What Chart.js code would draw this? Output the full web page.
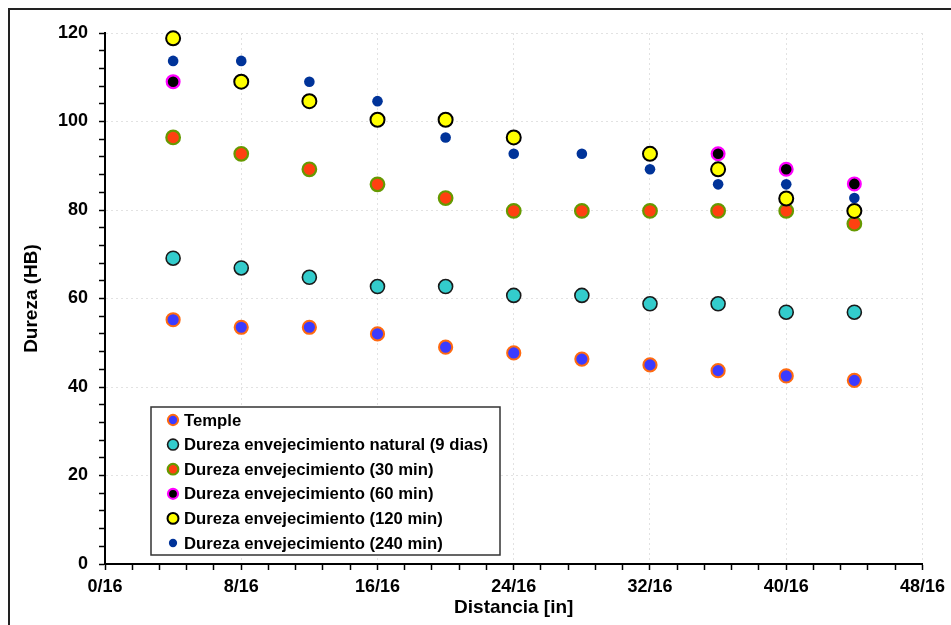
<!DOCTYPE html>
<html>
<head>
<meta charset="utf-8">
<script src="https://cdn.jsdelivr.net/npm/chart.js@4.4.0/dist/chart.umd.min.js"></script>
<style>
    html, body { margin: 0; padding: 0; background: #fff; }
    #wrap { position: relative; width: 951px; height: 625px; }
</style>
</head>
<body>
<div id="wrap"><canvas id="durezaChart" width="951" height="625"></canvas></div>
<script>
// distancia en dieciseisavos de pulgada
const distancias = [4, 8, 12, 16, 20, 24, 28, 32, 36, 40, 44];

const temple      = [55.2, 53.5, 53.5, 52.0, 49.0, 47.7, 46.3, 45.0, 43.7, 42.5, 41.5];
const natural9d   = [69.1, 66.9, 64.8, 62.7, 62.7, 60.7, 60.7, 58.8, 58.8, 56.9, 56.9];
const env30       = [96.4, 92.7, 89.2, 85.8, 82.7, 79.8, 79.8, 79.8, 79.8, 79.8, 76.9];
const env60       = [109.0, null, null, null, null, null, null, null, 92.7, 89.2, 85.9];
const env120      = [118.8, 109.0, 104.6, 100.4, 100.4, 96.4, null, 92.7, 89.2, 82.6, 79.8];
const env240      = [113.7, 113.7, 109.0, 104.6, 96.4, 92.7, 92.7, 89.2, 85.8, 85.8, 82.7];

const etiquetas = [
    'Temple',
    'Dureza envejecimiento natural (9 dias)',
    'Dureza envejecimiento (30 min)',
    'Dureza envejecimiento (60 min)',
    'Dureza envejecimiento (120 min)',
    'Dureza envejecimiento (240 min)'
];

const FUENTE = '"Liberation Sans", Arial, sans-serif';

function puntos(valores) {
    const out = [];
    valores.forEach((v, i) => {
        if (v !== null) out.push({ x: distancias[i], y: v });
    });
    return out;
}

function esMayor(v, paso) {
    return Math.abs(v / paso - Math.round(v / paso)) < 1e-6;
}

const estilos = [
    { fondo: '#3b3bff', borde: '#ff6a10', radio: 6.6, ancho: 2 },
    { fondo: '#33cccc', borde: '#1a1a1a', radio: 7,   ancho: 1.6 },
    { fondo: '#ff4010', borde: '#669900', radio: 6.8, ancho: 2.2 },
    { fondo: '#000000', borde: '#ff00ff', radio: 6.4, ancho: 2.2 },
    { fondo: '#ffff00', borde: '#000000', radio: 7,   ancho: 2 },
    { fondo: '#003399', borde: '#003399', radio: 5.3, ancho: 0 }
];

const series = [temple, natural9d, env30, env60, env120, env240];

const datasets = series.map((valores, i) => ({
    label: etiquetas[i],
    data: puntos(valores),
    pointRadius: estilos[i].radio,
    pointHoverRadius: estilos[i].radio,
    pointBorderWidth: estilos[i].ancho,
    pointBackgroundColor: estilos[i].fondo,
    pointBorderColor: estilos[i].borde,
    showLine: false,
    clip: false,
    order: series.length - i
}));

const leyendaPlugin = {
    id: 'leyenda',
    afterDraw(chart) {
        const ctx = chart.ctx;
        ctx.save();
        ctx.fillStyle = '#fff';
        ctx.fillRect(151, 407, 349, 148);
        ctx.strokeStyle = '#333';
        ctx.lineWidth = 1.5;
        ctx.strokeRect(151, 407, 349, 148);
        chart.data.datasets.forEach((ds, i) => {
            const y = 420 + i * 24.6;
            ctx.beginPath();
            ctx.arc(173, y, ds.pointRadius * 0.78, 0, Math.PI * 2);
            ctx.fillStyle = ds.pointBackgroundColor;
            ctx.fill();
            if (ds.pointBorderWidth) {
                ctx.lineWidth = ds.pointBorderWidth;
                ctx.strokeStyle = ds.pointBorderColor;
                ctx.stroke();
            }
            ctx.fillStyle = '#000';
            ctx.font = 'bold 16.7px ' + FUENTE;
            ctx.textBaseline = 'middle';
            ctx.textAlign = 'left';
            ctx.fillText(ds.label, 184, y + 1);
        });
        // marco exterior
        ctx.strokeStyle = '#222';
        ctx.lineWidth = 2;
        ctx.beginPath();
        ctx.moveTo(9, 625);
        ctx.lineTo(9, 9);
        ctx.lineTo(951, 9);
        ctx.stroke();
        ctx.restore();
    }
};

const ctx = document.getElementById('durezaChart').getContext('2d');
const durezaChart = new Chart(ctx, {
    type: 'scatter',
    data: { datasets: datasets },
    options: {
        responsive: false,
        animation: false,
        devicePixelRatio: 1,
        layout: { padding: { top: 33, right: 27, bottom: 0, left: 0 } },
        plugins: {
            legend: { display: false },
            tooltip: { enabled: false }
        },
        scales: {
            x: {
                type: 'linear',
                min: 0,
                max: 48,
                afterBuildTicks: s => {
                    s.ticks = [];
                    for (let i = 0; i <= 30; i++) s.ticks.push({ value: i * 1.6 });
                },
                afterFit: s => { s.height = 61; },
                ticks: {
                    autoSkip: false,
                    maxRotation: 0,
                    padding: 6,
                    color: '#000',
                    font: { family: FUENTE, size: 18, weight: 'bold' },
                    callback: v => esMayor(v, 8) ? Math.round(v) + '/16' : ''
                },
                grid: {
                    color: c => esMayor(c.tick.value, 8) ? '#e2e2e2' : 'rgba(0,0,0,0)',
                    tickColor: '#000',
                    tickLength: 6,
                    tickWidth: 1.5
                },
                border: { color: '#000', width: 2, dash: [2, 3] },
                title: {
                    display: true,
                    text: 'Distancia [in]',
                    color: '#000',
                    font: { family: FUENTE, size: 19, weight: 'bold' },
                    padding: { top: 0, bottom: 6 }
                }
            },
            y: {
                min: 0,
                max: 120,
                afterBuildTicks: s => {
                    s.ticks = [];
                    for (let v = 0; v <= 120; v += 4) s.ticks.push({ value: v });
                },
                afterFit: s => { s.width = 105; },
                ticks: {
                    autoSkip: false,
                    padding: 11,
                    color: '#000',
                    font: { family: FUENTE, size: 18, weight: 'bold' },
                    callback: v => esMayor(v, 20) ? v : ''
                },
                grid: {
                    color: c => esMayor(c.tick.value, 20) ? '#e2e2e2' : 'rgba(0,0,0,0)',
                    tickColor: '#000',
                    tickLength: 6,
                    tickWidth: 1.5
                },
                border: { color: '#000', width: 2, dash: [2, 3] },
                title: {
                    display: true,
                    text: 'Dureza (HB)',
                    color: '#000',
                    font: { family: FUENTE, size: 19, weight: 'bold' },
                    padding: { top: 20, bottom: 0 }
                }
            }
        }
    },
    plugins: [leyendaPlugin]
});
</script>
</body>
</html>
